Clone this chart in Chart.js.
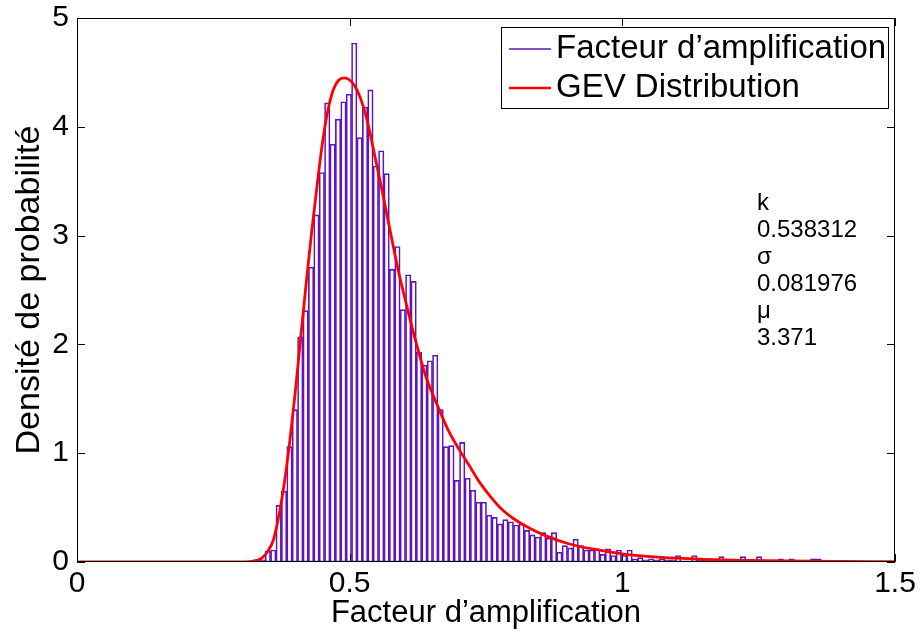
<!DOCTYPE html>
<html>
<head>
<meta charset="utf-8">
<script src="https://cdn.jsdelivr.net/npm/chart.js@4.4.1/dist/chart.umd.min.js"></script>
<style>
html, body { margin: 0; padding: 0; background: #fff; }
#wrap { width: 923px; height: 637px; }
</style>
</head>
<body>
<div id="wrap"><canvas id="histChart"></canvas></div>
<script>
// histogram bins (centres) and their density
var binCenters = [0.3302, 0.3401, 0.3500, 0.3599, 0.3698, 0.3797, 0.3896, 0.3995, 0.4094, 0.4193,
  0.4292, 0.4391, 0.4490, 0.4589, 0.4688, 0.4787, 0.4886, 0.4985, 0.5084, 0.5183,
  0.5282, 0.5381, 0.5480, 0.5579, 0.5678, 0.5777, 0.5876, 0.5975, 0.6074, 0.6173,
  0.6272, 0.6371, 0.6470, 0.6569, 0.6668, 0.6767, 0.6866, 0.6965, 0.7064, 0.7163,
  0.7262, 0.7361, 0.7460, 0.7559, 0.7658, 0.7757, 0.7856, 0.7955, 0.8054, 0.8153,
  0.8252, 0.8351, 0.8450, 0.8549, 0.8648, 0.8747, 0.8846, 0.8945, 0.9044, 0.9143,
  0.9242, 0.9341, 0.9440, 0.9539, 0.9638, 0.9737, 0.9836, 0.9935, 1.0034, 1.0133,
  1.0232, 1.0331, 1.0430, 1.0529, 1.0628, 1.0727, 1.0826, 1.0925, 1.1024, 1.1123,
  1.1222, 1.1321, 1.1420, 1.1519, 1.1618, 1.1717, 1.1816, 1.1915, 1.2014, 1.2113,
  1.2212, 1.2311, 1.2410, 1.2509, 1.2608, 1.2707, 1.2806, 1.2905, 1.3004, 1.3103,
  1.3202, 1.3301, 1.3400, 1.3499, 1.3598];
var binDensity = [0.02, 0.02, 0.10, 0.11, 0.52, 0.65, 1.06, 1.40, 2.07, 2.31,
  2.71, 3.19, 3.58, 4.22, 3.84, 4.07, 4.23, 4.30, 4.77, 3.90,
  4.18, 4.34, 3.64, 3.78, 3.57, 2.69, 2.90, 2.32, 2.64, 2.58,
  1.93, 1.81, 1.85, 1.90, 1.40, 1.06, 1.07, 0.75, 1.10, 0.77,
  0.66, 0.55, 0.55, 0.43, 0.41, 0.35, 0.39, 0.37, 0.34, 0.35,
  0.29, 0.25, 0.23, 0.27, 0.22, 0.27, 0.09, 0.15, 0.13, 0.21,
  0.15, 0.11, 0.11, 0.12, 0.07, 0.12, 0.06, 0.11, 0.06, 0.11,
  0.03, 0.04, 0.02, 0.03, 0.02, 0.03, 0.02, 0.02, 0.06, 0.01,
  0.01, 0.06, 0.02, 0.02, 0.01, 0.02, 0.05, 0.01, 0.02, 0.01,
  0.05, 0.01, 0.01, 0.05, 0.01, 0, 0.01, 0.03, 0, 0.03,
  0, 0.01, 0, 0.03, 0.03];

// fitted GEV curve
var gevX = [0, 0.30, 0.32, 0.33, 0.34, 0.35, 0.36, 0.37, 0.38, 0.39, 0.40, 0.41, 0.42, 0.43, 0.44,
  0.45, 0.46, 0.47, 0.48, 0.49, 0.50, 0.51, 0.52, 0.53, 0.54, 0.55, 0.56, 0.57, 0.58, 0.59,
  0.60, 0.62, 0.64, 0.66, 0.68, 0.70, 0.72, 0.74, 0.76, 0.78, 0.80, 0.83, 0.86, 0.90, 0.95,
  1.00, 1.05, 1.10, 1.15, 1.20, 1.30, 1.40, 1.50];
var gevY = [0, 0, 0.005, 0.015, 0.04, 0.10, 0.20, 0.42, 0.72, 1.10, 1.55, 2.05, 2.55, 3.02, 3.45,
  3.85, 4.15, 4.34, 4.43, 4.45, 4.43, 4.37, 4.26, 4.10, 3.88, 3.64, 3.40, 3.15, 2.90, 2.66,
  2.45, 2.05, 1.70, 1.45, 1.22, 1.04, 0.88, 0.72, 0.59, 0.48, 0.40, 0.31, 0.24, 0.17, 0.115,
  0.075, 0.05, 0.035, 0.025, 0.018, 0.009, 0.005, 0.003];

var xTicks = [0, 0.5, 1, 1.5];
var yTicks = [0, 1, 2, 3, 4, 5];
var paramText = ["k", "0.538312", "\u03c3", "0.081976", "\u03bc", "3.371"];

var FAMILY = "'Liberation Sans', Arial, Helvetica, sans-serif";
var purple = '#5f14bd';
var red = '#ff0000';

var histPoints = binCenters.map(function (x, i) { return { x: x, y: binDensity[i] }; });
var gevPoints = gevX.map(function (x, i) { return { x: x, y: gevY[i] }; });

// box, inner ticks, legend and parameter text (MATLAB look)
var matlabAxes = {
  id: 'matlabAxes',
  afterDraw: function (chart) {
    var ctx = chart.ctx, a = chart.chartArea;
    var xs = chart.scales.x, ys = chart.scales.y;
    ctx.save();
    ctx.strokeStyle = '#000';
    ctx.lineWidth = 1;
    ctx.strokeRect(a.left + 0.5, a.top + 0.5, a.right - a.left - 1, a.bottom - a.top - 1);
    ctx.beginPath();
    yTicks.forEach(function (v) {
      var py = Math.round(ys.getPixelForValue(v)) + 0.5;
      ctx.moveTo(a.left, py); ctx.lineTo(a.left + 8, py);
      ctx.moveTo(a.right, py); ctx.lineTo(a.right - 8, py);
    });
    xTicks.forEach(function (v) {
      var px = Math.round(xs.getPixelForValue(v)) + 0.5;
      ctx.moveTo(px, a.bottom); ctx.lineTo(px, a.bottom - 8);
      ctx.moveTo(px, a.top); ctx.lineTo(px, a.top + 8);
    });
    ctx.stroke();

    // legend box
    var lx = 501, ly = 27, lw = 387, lh = 81;
    ctx.fillStyle = '#fff';
    ctx.fillRect(lx, ly, lw, lh);
    ctx.strokeRect(lx + 0.5, ly + 0.5, lw, lh);
    ctx.font = '33px ' + FAMILY;
    ctx.textBaseline = 'middle';
    ctx.textAlign = 'left';
    chart.data.datasets.forEach(function (ds, i) {
      var yy = ly + 22 + i * 39;
      ctx.strokeStyle = ds.borderColor;
      ctx.lineWidth = i === 0 ? 1.5 : 2.5;
      ctx.beginPath();
      ctx.moveTo(lx + 8, yy); ctx.lineTo(lx + 50, yy);
      ctx.stroke();
      ctx.fillStyle = '#000';
      ctx.fillText(ds.label, lx + 55, yy);
    });

    // fitted parameters
    ctx.font = '24px ' + FAMILY;
    ctx.fillStyle = '#000';
    paramText.forEach(function (t, i) {
      ctx.fillText(t, 757, 203 + i * 27);
    });
    ctx.restore();
  }
};

var tickFont = { family: FAMILY, size: 30 };
var titleFont = { family: FAMILY, size: 31 };
var yTitleFont = { family: FAMILY, size: 34 };

var ctxH = document.getElementById('histChart').getContext('2d');
var histChart = new Chart(ctxH, {
  type: 'bar',
  data: {
    datasets: [{
      type: 'bar',
      label: 'Facteur d\u2019amplification',
      data: histPoints,
      backgroundColor: 'rgba(255,255,255,0)',
      borderColor: purple,
      borderWidth: 1,
      borderSkipped: false,
      barPercentage: 1,
      categoryPercentage: 1,
      order: 2
    }, {
      type: 'line',
      label: 'GEV Distribution',
      data: gevPoints,
      borderColor: red,
      borderWidth: 2.8,
      pointRadius: 0,
      fill: false,
      cubicInterpolationMode: 'monotone',
      order: 1
    }]
  },
  options: {
    responsive: true,
    maintainAspectRatio: false,
    animation: false,
    layout: { padding: { top: 18, right: 28, left: 0, bottom: 0 } },
    plugins: { legend: { display: false }, tooltip: { enabled: false } },
    scales: {
      x: {
        type: 'linear',
        min: 0, max: 1.5,
        offset: false,
        afterBuildTicks: function (s) { s.ticks = xTicks.map(function (v) { return { value: v }; }); },
        afterFit: function (s) { s.height = 75; s.paddingLeft = 0; s.paddingRight = 0; },
        grid: { display: false, drawTicks: false },
        border: { display: false },
        ticks: { font: tickFont, color: '#000', padding: 4, maxRotation: 0, autoSkip: false,
          callback: function (v) { return String(v); } },
        title: { display: true, text: 'Facteur d\u2019amplification', font: titleFont, color: '#000',
          padding: { top: 0, bottom: 5 } }
      },
      y: {
        min: 0, max: 5,
        afterBuildTicks: function (s) { s.ticks = yTicks.map(function (v) { return { value: v }; }); },
        afterFit: function (s) { s.width = 77; s.paddingTop = 0; s.paddingBottom = 0; },
        grid: { display: false, drawTicks: false },
        border: { display: false },
        ticks: { font: tickFont, color: '#000', padding: 8,
          callback: function (v) { return String(v); } },
        title: { display: true, text: 'Densit\u00e9 de probabilit\u00e9', font: yTitleFont, color: '#000',
          padding: { top: 9, bottom: 0 } }
      }
    }
  },
  plugins: [matlabAxes]
});
</script>
</body>
</html>
